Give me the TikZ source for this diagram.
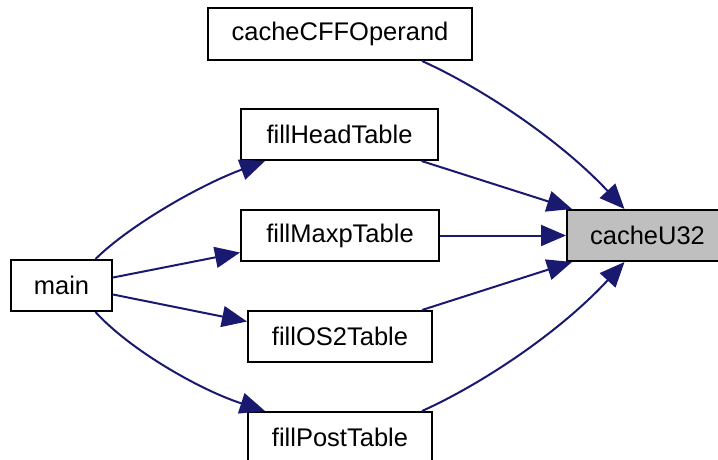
\documentclass[tikz,border=0pt]{standalone}
\usepackage{fontspec}
\setmainfont{Liberation Sans}
\usetikzlibrary{arrows.meta}
\definecolor{edgeblue}{HTML}{191970}
\definecolor{hlgray}{HTML}{BFBFBF}
\begin{document}
\begin{tikzpicture}[x=1pt,y=-1pt,
  box/.style={draw=black,line width=2pt,inner sep=0pt,minimum height=51pt,font=\fontsize{25.5}{30}\selectfont},
  edge/.style={draw=edgeblue,line width=2pt,-{Triangle[length=25pt,width=21pt]}}]
\useasboundingbox (0,0) rectangle (718,459);
\node[box,minimum width=264pt,minimum height=52pt] (ccff) at (340,34) {cacheCFFOperand};
\node[box,minimum width=197pt] (head) at (339.5,134.5) {fillHeadTable};
\node[box,minimum width=198pt] (maxp) at (340,235.5) {fillMaxpTable};
\node[box,minimum width=161pt,fill=hlgray] (cu) at (647.5,235.5) {cacheU32};
\node[box,minimum width=101pt] (main) at (61.5,285.5) {main};
\node[box,minimum width=184pt] (os2) at (340,336.5) {fillOS2Table};
\node[box,minimum width=184pt] (post) at (340,437.5) {fillPostTable};
% edges to cacheU32
\draw[edge] ([xshift=82pt]ccff.south) .. controls (482,88) and (560,140) .. ([xshift=-23pt]cu.north);
\draw[edge] ([xshift=82pt]head.south) -- ([xshift=6pt]cu.north west);
\draw[edge] (maxp.east) -- (cu.west);
\draw[edge] ([xshift=82pt]os2.north) -- ([xshift=6pt]cu.south west);
\draw[edge] ([xshift=82pt]post.north) .. controls (482,384) and (560,332) .. ([xshift=-23pt]cu.south);
% edges from main
\draw[edge] ([xshift=34pt]main.north) .. controls (130,225) and (200,185) .. ([xshift=25pt]head.south west);
\draw[edge] ([yshift=8pt]main.east) -- ([yshift=-17pt]maxp.west);
\draw[edge] ([yshift=-9pt]main.east) -- ([yshift=15pt]os2.west);
\draw[edge] ([xshift=34pt]main.south) .. controls (130,350) and (200,390) .. ([xshift=18pt]post.north west);
\end{tikzpicture}
\end{document}
